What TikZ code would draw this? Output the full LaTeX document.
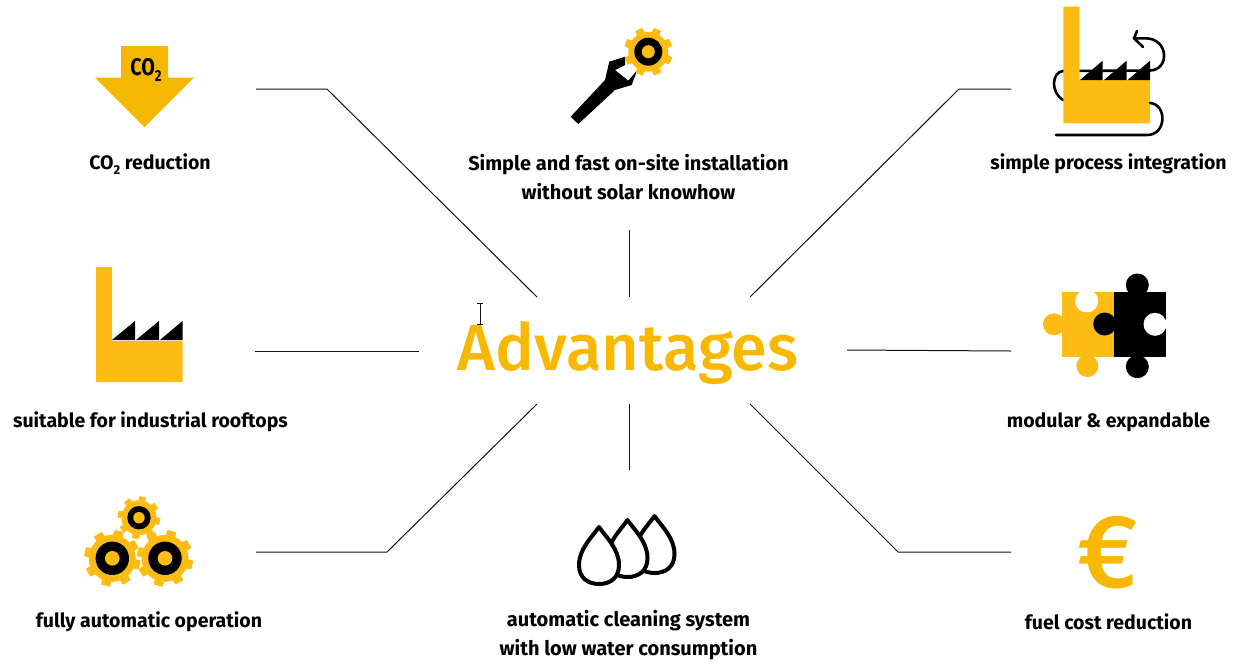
\documentclass[tikz,border=0pt]{standalone}
\usepackage{fontspec}
\setmainfont{Fira Sans}
\newfontfamily\labelfont{Fira Sans Bold}
\newfontfamily\titlefont{Fira Sans Medium}
\definecolor{amber}{HTML}{FCBC14}
\definecolor{arrowamber}{HTML}{F5B800}
\definecolor{titleamber}{HTML}{F9B800}
\definecolor{linegray}{HTML}{111111}
\newcommand{\subtwo}{\raisebox{-0.25em}{\scalebox{0.66}{2}}}
\newcommand{\gearicon}[7]{% cx cy outer body ringouter ringinner rotation
  \foreach \b in {0,45,...,315}{
    \pgfmathsetmacro{\a}{\b+#7}
    \fill[amber] ([shift={(#1,#2)}]\a+12:#4) -- ([shift={(#1,#2)}]\a+9:#3) -- ([shift={(#1,#2)}]\a-9:#3) -- ([shift={(#1,#2)}]\a-12:#4) -- cycle;
  }
  \fill[amber] (#1,#2) circle[radius=#4];
  \fill[black] (#1,#2) circle[radius=#5];
  \fill[amber] (#1,#2) circle[radius=#6];
}
\newcommand{\dropicon}[2]{% tip x, tip y
  \draw[line width=4pt,line join=round,fill=white] (#1,#2)
    .. controls (#1+7,#2+10) and (#1+20,#2+22) .. (#1+20,#2+38)
    .. controls (#1+20,#2+51) and (#1+11,#2+57) .. (#1,#2+57)
    .. controls (#1-11,#2+57) and (#1-20,#2+51) .. (#1-20,#2+38)
    .. controls (#1-20,#2+22) and (#1-7,#2+10) .. cycle;
}
\tikzset{
  label text/.style={font=\labelfont\fontsize{19.5}{29}\selectfont,align=center,text=black,inner sep=0pt,anchor=center},
  wide label/.style={label text,font=\labelfont\fontsize{20}{29}\selectfont},
  spoke/.style={draw=linegray,line width=1pt},
}
\begin{document}
\begin{tikzpicture}[x=1pt,y=-1pt]
\useasboundingbox (0,0) rectangle (1238,667);
% title
\node[font=\titlefont\fontsize{65}{65}\selectfont,text=titleamber,inner sep=0pt] (title) at (628,353) {Advantages};
% labels
\node[label text] (l1) at (150,164) {CO\subtwo\ reduction};
\node[wide label] (l2) at (628.5,177.5) {Simple and fast on-site installation\\without solar knowhow};
\node[label text] (l3) at (1108.5,164) {simple process integration};
\node[label text] (l4) at (150.5,422) {suitable for industrial rooftops};
\node[label text] (l5) at (1108.5,422) {modular \& expandable};
\node[label text] (l6) at (149,621.5) {fully automatic operation};
\node[wide label] (l7) at (628.5,635.5) {automatic cleaning system\\with low water consumption};
\node[label text] (l8) at (1108.5,621.5) {fuel cost reduction};
% connector end points
\coordinate (a1) at (256,89); \coordinate (a2) at (327,89); \coordinate (a3) at (537,297);
\coordinate (b1) at (629,230); \coordinate (b2) at (629,297);
\coordinate (c1) at (1011,89); \coordinate (c2) at (959,89); \coordinate (c3) at (750,297);
\coordinate (d1) at (255,351); \coordinate (d2) at (419,351);
\coordinate (e1) at (847,350); \coordinate (e2) at (1011,351);
\coordinate (f1) at (256,552); \coordinate (f2) at (387,552); \coordinate (f3) at (537,404);
\coordinate (g1) at (629,404); \coordinate (g2) at (629,470);
\coordinate (h1) at (1011,552); \coordinate (h2) at (898,552); \coordinate (h3) at (750,404);
\draw[spoke] (a1) -- (a2) -- (a3);
\draw[spoke] (b1) -- (b2);
\draw[spoke] (c1) -- (c2) -- (c3);
\draw[spoke] (d1) -- (d2);
\draw[spoke] (e1) -- (e2);
\draw[spoke] (f1) -- (f2) -- (f3);
\draw[spoke] (g1) -- (g2);
\draw[spoke] (h1) -- (h2) -- (h3);
% text cursor
\draw[linegray,line width=0.8pt] (477,303) -- (483,303) (480,303) -- (480,324) (477,324) -- (483,324);
% CO2 arrow
\fill[arrowamber] (121,46) -- (168,46) -- (168,77.5) -- (194,77.5) -- (144.5,127) -- (95,77.5) -- (121,77.5) -- cycle;
\node[font=\labelfont\fontsize{24}{24}\selectfont,inner sep=0pt,xscale=0.82] (co) at (146,70) {CO\subtwo};
% wrench and gear
\fill[black] (570.7,116.7) -- (605,80) -- (609.3,61.7) -- (625,56.7) -- (625,65) -- (615,70) -- (628.3,80.7) -- (637.3,70) -- (631.7,85) -- (615,90) -- (578.3,124) -- cycle;
\gearicon{648.3}{51.7}{24.5}{20}{14}{6.5}{22}
% factory with loop
\draw[black,line width=2.6pt,line cap=round] (1063,100) .. controls (1050,92) and (1052,72) .. (1063,71) -- (1150,70.5) .. controls (1170,70) and (1169,38) .. (1145,38.3) -- (1136,38.3);
\draw[black,line width=2.6pt,line cap=round] (1137,31) -- (1134,38.3) -- (1143,47);
\fill[amber] (1063.3,6.7) -- (1079.7,6.7) -- (1079.7,80) -- (1150,80) -- (1150,123.3) -- (1063.3,123.3) -- cycle;
\draw[black,line width=2.6pt,line cap=round] (1150,103) .. controls (1167,104) and (1167,135) .. (1147,135) -- (1056,135);
\fill[black] (1080,80) -- (1102.7,60.7) -- (1102.7,80) -- cycle;
\fill[black] (1104,80) -- (1126.7,60.7) -- (1126.7,80) -- cycle;
\fill[black] (1127.7,80) -- (1150,60.7) -- (1150,80) -- cycle;
% plain factory
\fill[amber] (96,267) -- (112,267) -- (112,341) -- (182.5,341) -- (182.5,382) -- (96,382) -- cycle;
\fill[black] (112,340) -- (135,321) -- (135,340) -- cycle;
\fill[black] (136,340) -- (159,321) -- (159,340) -- cycle;
\fill[black] (160,340) -- (182.5,321) -- (182.5,340) -- cycle;
% puzzle
\fill[amber] (1061.7,292.3) rectangle (1114,356.7);
\fill[amber] (1054,324.3) circle[radius=11];
\fill[amber] (1087.3,366) circle[radius=11];
\fill[white] (1086.7,301) circle[radius=11.5];
\fill[black] (1114,292.3) rectangle (1165.7,356.7);
\fill[black] (1104.7,324) circle[radius=11.5];
\fill[black] (1137.3,285) circle[radius=11.5];
\fill[black] (1137.3,366.7) circle[radius=11.5];
\fill[white] (1155,324.3) circle[radius=11.5];
\fill[white] (1165.7,310) rectangle (1172,340);
% three gears
\gearicon{139}{517.7}{21.5}{17.5}{11.7}{5.7}{10}
\gearicon{112.3}{558.3}{28.5}{23.5}{16.7}{7.3}{14}
\gearicon{165}{558.3}{28.5}{23.5}{16.7}{7.3}{14}
% drops
\dropicon{654.5}{516}
\dropicon{627.5}{520}
\dropicon{599}{527}
% euro
\node[font=\titlefont\fontsize{104}{104}\selectfont,text=titleamber,inner sep=0pt] (euro) at (1108,553) {€};
\end{tikzpicture}
\end{document}
